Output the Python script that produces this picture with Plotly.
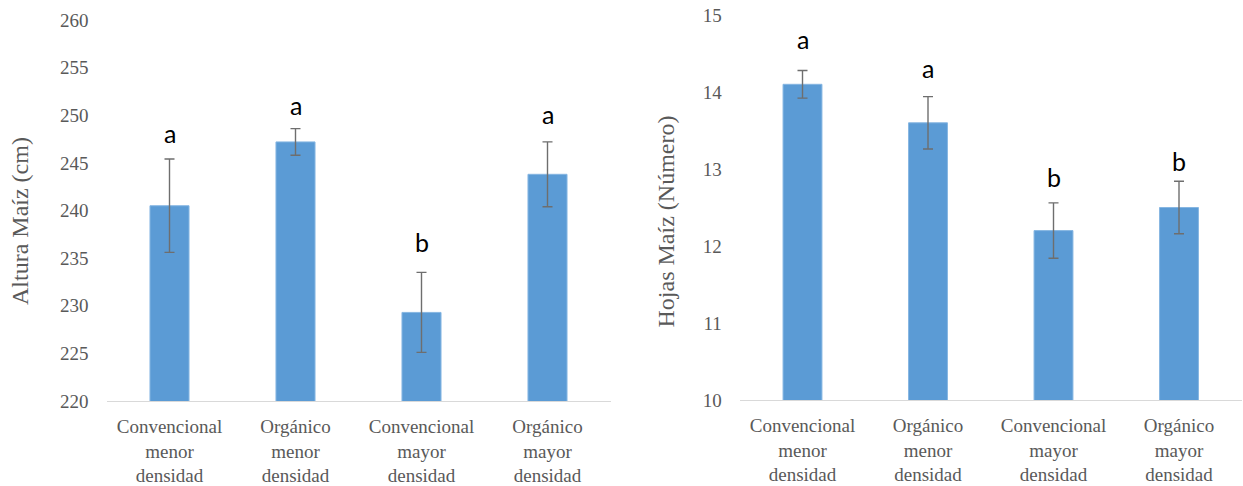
import plotly.graph_objects as go

# Treatments (shared by both panels)
tratamientos = [
    "Convencional<br>menor<br>densidad",
    "Orgánico<br>menor<br>densidad",
    "Convencional<br>mayor<br>densidad",
    "Orgánico<br>mayor<br>densidad",
]

# Plant height (cm)
altura = [240.5, 247.2, 229.3, 243.8]
altura_err = [4.9, 1.4, 4.2, 3.4]
altura_letras = ["a", "a", "b", "a"]

# Leaf number
hojas = [14.1, 13.6, 12.2, 12.5]
hojas_err = [0.18, 0.34, 0.36, 0.34]
hojas_letras = ["a", "a", "b", "b"]

# vertical gap (px) between each error bar top and its letter
altura_gap = [26, 24, 30, 28]
hojas_gap = [31, 29, 26, 20]

W, H = 1243, 486
BAR = "#5B9BD5"
ERR = "#6e6e6e"
TXT = "#595959"
SERIF = "Liberation Serif"


def bar_trace(y, err, xa, ya):
    return go.Bar(
        x=tratamientos, y=y, xaxis=xa, yaxis=ya, width=0.31,
        marker=dict(color=BAR, line=dict(color="#86b6e2", width=1)),
        error_y=dict(type="data", array=err, visible=True,
                     color=ERR, thickness=1.4, width=5),
        showlegend=False, hoverinfo="skip",
    )


fig = go.Figure()
fig.add_trace(bar_trace(altura, altura_err, "x", "y"))
fig.add_trace(bar_trace(hojas, hojas_err, "x2", "y2"))

xcommon = dict(
    type="category", showgrid=False, zeroline=False, automargin=False,
    showline=True, linecolor="#d9d9d9", linewidth=1,
    ticks="", tickfont=dict(family=SERIF, size=19, color=TXT),
    ticklabelstandoff=8, fixedrange=True,
)
ycommon = dict(
    showgrid=False, zeroline=False, showline=False, ticks="", automargin=False,
    tickfont=dict(family=SERIF, size=19, color=TXT),
    ticklabelstandoff=17, fixedrange=True,
)

fig.update_layout(
    width=W, height=H,
    margin=dict(l=0, r=0, t=0, b=0, autoexpand=False),
    paper_bgcolor="white", plot_bgcolor="white",
    bargap=0.69,
    xaxis=dict(xcommon, domain=[106.5 / W, 610.5 / W], anchor="y"),
    yaxis=dict(ycommon, domain=[(H - 401) / H, (H - 20) / H], anchor="x",
               range=[220, 260], tickvals=list(range(220, 261, 5))),
    xaxis2=dict(xcommon, domain=[739.75 / W, 1241.75 / W], anchor="y2"),
    yaxis2=dict(ycommon, domain=[(H - 400) / H, (H - 15) / H], anchor="x2",
                range=[10, 15], tickvals=list(range(10, 16))),
)

annotations = []
for cat, v, e, lab, g in zip(tratamientos, altura, altura_err, altura_letras, altura_gap):
    annotations.append(dict(x=cat, y=v + e, xref="x", yref="y", text=lab,
                            showarrow=False, yanchor="middle", yshift=g,
                            font=dict(family="Lato", size=25, color="black")))
for cat, v, e, lab, g in zip(tratamientos, hojas, hojas_err, hojas_letras, hojas_gap):
    annotations.append(dict(x=cat, y=v + e, xref="x2", yref="y2", text=lab,
                            showarrow=False, yanchor="middle", yshift=g,
                            font=dict(family="Lato", size=25, color="black")))

# axis titles
annotations.append(dict(x=20 / W, y=(H - 221) / H, xref="paper", yref="paper",
                        text="Altura Maíz (cm)", textangle=-90, showarrow=False,
                        xanchor="center", yanchor="middle",
                        font=dict(family=SERIF, size=24, color=TXT)))
annotations.append(dict(x=666 / W, y=(H - 221.5) / H, xref="paper", yref="paper",
                        text="Hojas Maíz (Número)", textangle=-90, showarrow=False,
                        xanchor="center", yanchor="middle",
                        font=dict(family=SERIF, size=24, color=TXT)))

fig.update_layout(annotations=annotations)

fig.write_html("out.html", config={"displayModeBar": False})
